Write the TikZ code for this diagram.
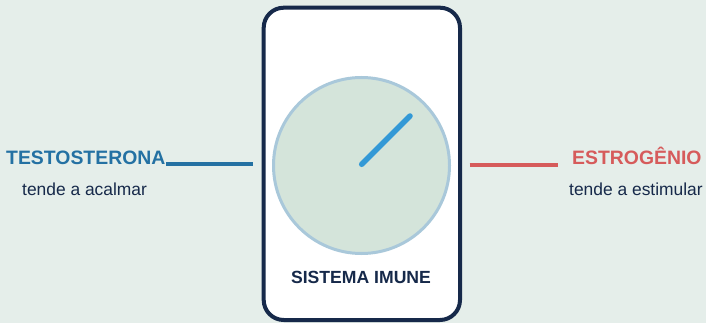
\documentclass[tikz,border=0pt]{standalone}
\usepackage{fontspec}
\setmainfont{Liberation Sans}
\definecolor{bg}{HTML}{E5EEEA}
\definecolor{navy}{HTML}{16294A}
\definecolor{tblue}{HTML}{2471A3}
\definecolor{ered}{HTML}{D65B5B}
\definecolor{dialfill}{HTML}{D4E4DA}
\definecolor{dialedge}{HTML}{A9C8DA}
\definecolor{needle}{HTML}{3399D6}
\begin{document}
\begin{tikzpicture}[x=1pt,y=-1pt,
  title/.style={inner sep=0pt,font=\fontsize{19.4}{22}\selectfont\bfseries},
  sub/.style={inner sep=0pt,text=navy,font=\fontsize{17.4}{20}\selectfont},
  link/.style={line width=4pt}]
\fill[bg] (0,0) rectangle (706,323);
\useasboundingbox (0,0) rectangle (706,323);
% box
\draw[navy,line width=4pt,fill=white,rounded corners=20pt] (263.7,7.7) rectangle (460,320);
% dial
\draw[dialedge,fill=dialfill,line width=3pt] (361.5,165.5) circle[radius=88];
\coordinate (hub) at (361.7,164.3);
\coordinate (tip) at (410,116);
\draw[needle,line width=5.5pt,line cap=round] (hub) -- (tip);
\node[title,text=navy,font=\fontsize{17.6}{20}\selectfont\bfseries,anchor=base] (sys) at (361,283) {SISTEMA IMUNE};
% left
\node[title,text=tblue,anchor=base west] (testo) at (6,165) {TESTOSTERONA};
\node[sub,anchor=base west] (calm) at (22,195) {tende a acalmar};
\coordinate (tl) at (166,164.3);
\coordinate (tr) at (253,164.3);
\draw[link,tblue] (tl) -- (tr);
% right
\node[title,text=ered,anchor=base west] (estro) at (572,165) {ESTROGÊNIO};
\node[sub,anchor=base west] (stim) at (569,195) {tende a estimular};
\coordinate (el) at (469.5,164.7);
\coordinate (er) at (557.5,164.7);
\draw[link,ered] (el) -- (er);
\end{tikzpicture}
\end{document}
